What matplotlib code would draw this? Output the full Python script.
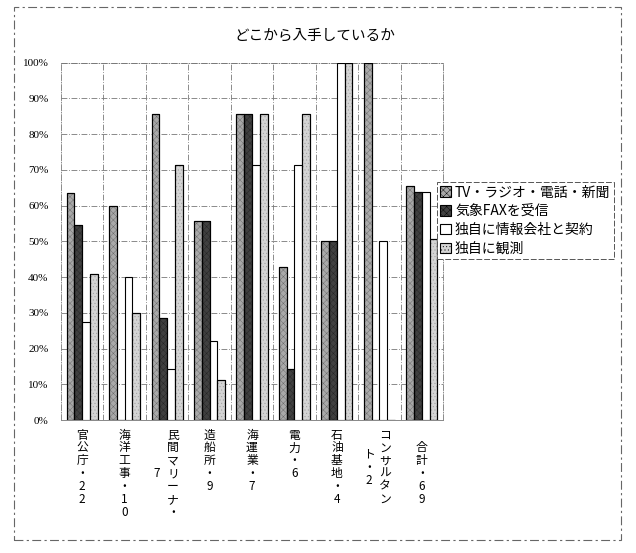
import numpy as np
import matplotlib
matplotlib.use("Agg")
import matplotlib.pyplot as plt
from matplotlib.patches import Rectangle, Patch

plt.rcParams['font.family'] = ['Noto Sans CJK JP', 'DejaVu Sans']
plt.rcParams['hatch.linewidth'] = 0.3

# Data (share of respondents, %)
categories = ["官公庁・22", "海洋工事・10", "民間マリーナ・7", "造船所・9", "海運業・7",
              "電力・6", "石油基地・4", "コンサルタント・2", "合計・69"]
# vertical labels split into columns (right column first, as in vertical Japanese text)
label_columns = [["官公庁・22"], ["海洋工事・10"], ["民間マリーナ・", "7"], ["造船所・9"],
                 ["海運業・7"], ["電力・6"], ["石油基地・4"], ["コンサルタン", "ト・2"],
                 ["合計・69"]]
series_names = ["TV・ラジオ・電話・新聞", "気象FAXを受信", "独自に情報会社と契約", "独自に観測"]
tv = [63.6, 60.0, 85.7, 55.6, 85.7, 42.9, 50.0, 100.0, 65.6]
fax = [54.5, 0.0, 28.6, 55.6, 85.7, 14.3, 50.0, 0.0, 63.8]
contract = [27.3, 40.0, 14.3, 22.2, 71.4, 71.4, 100.0, 50.0, 63.8]
observe = [40.9, 30.0, 71.4, 11.1, 85.7, 85.7, 100.0, 0.0, 50.7]
values = [tv, fax, contract, observe]

colors = ['#a9a9a9', '#404040', 'white', '#d4d4d4']
hatches = ['xxxxx', 'xxxxx', None, '.....']
hatch_edges = ['#666666', '#222222', 'black', '#999999']

fig = plt.figure(figsize=(6.36, 5.53), dpi=100, facecolor='white')
ax = fig.add_axes([0.0959, 0.2405, 0.6006, 0.6461])

x = np.arange(len(categories))
w = 0.183
for i, vals in enumerate(values):
    ax.bar(x + (i - 1.5) * w, vals, width=w, color=colors[i], edgecolor='black',
           linewidth=0.8, zorder=3)
    if hatches[i]:
        ax.bar(x + (i - 1.5) * w, vals, width=w, color='none', edgecolor=hatch_edges[i],
               hatch=hatches[i], linewidth=0, zorder=3.5)
        ax.bar(x + (i - 1.5) * w, vals, width=w, color='none', edgecolor='black',
               linewidth=0.8, zorder=3.6)

ax.set_xlim(-0.5, len(categories) - 0.5)
ax.set_ylim(0, 100)
ax.set_yticks(np.arange(0, 101, 10))
ax.set_yticklabels([f"{v}%" for v in range(0, 101, 10)], fontfamily='Liberation Serif',
                   fontsize=8)
ax.tick_params(axis='y', length=0, pad=9)
ax.set_xticks([])

grid_style = (0, (7, 2, 1, 2))
for yv in range(10, 101, 10):
    ax.axhline(yv, color='#777777', lw=0.6, ls=grid_style, zorder=1)
for xv in np.arange(0.5, len(categories) - 0.5, 1):
    ax.axvline(xv, color='#777777', lw=0.6, ls=grid_style, zorder=1)
for side in ['left', 'right', 'top']:
    ax.spines[side].set_linestyle(grid_style)
    ax.spines[side].set_color('#777777')
    ax.spines[side].set_linewidth(0.6)
ax.spines['bottom'].set_color('#888888')
ax.spines['bottom'].set_linewidth(0.7)

# vertical category labels
row = 0.036
y0 = -0.042
for i, cols in enumerate(label_columns):
    extra = 1 if i == len(label_columns) - 1 else 0
    n1 = len(cols[0])
    offsets = [0.0] if len(cols) == 1 else [0.14, -0.24]
    for c, text in enumerate(cols):
        start = extra + (n1 - len(text)) / 2
        for r, ch in enumerate(text):
            ax.text(x[i] + offsets[c], y0 - (start + r) * row, ch,
                    transform=ax.get_xaxis_transform(), ha='center', va='center',
                    fontsize=8.5, clip_on=False)

fig.text(0.495, 0.935, "どこから入手しているか", ha='center', va='center', fontsize=10.5)

handles = []
for i in range(4):
    handles.append(Patch(facecolor=colors[i], edgecolor='black', linewidth=0.8,
                         hatch=hatches[i]))
leg = fig.legend(handles, series_names, loc='upper left', bbox_to_anchor=(0.687, 0.671),
                 fontsize=10, handlelength=0.75, handleheight=0.75, handletextpad=0.3,
                 borderpad=0.25, labelspacing=0.35, borderaxespad=0, fancybox=False,
                 edgecolor='#555555', framealpha=1)
leg.get_frame().set_linestyle((0, (6, 2)))
leg.get_frame().set_linewidth(0.7)

fig.patches.append(Rectangle((0.022, 0.0235), 0.954, 0.964, transform=fig.transFigure,
                             fill=False, edgecolor='#666666', lw=0.8,
                             ls=(0, (8, 3, 2, 3))))

fig.savefig("out.png", dpi=100, facecolor='white')
